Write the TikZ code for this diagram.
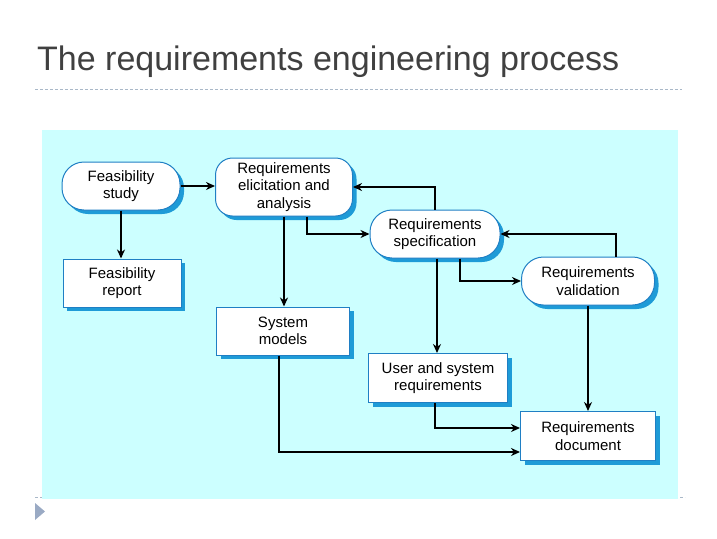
\documentclass[tikz,border=0pt]{standalone}
\usepackage{fontspec}
\setmainfont{Liberation Sans}
\usetikzlibrary{shadows,arrows.meta}
\definecolor{panel}{HTML}{CCFFFF}
\definecolor{edge}{HTML}{1F7FC4}
\definecolor{shade}{HTML}{1E9BD7}
\definecolor{titlegray}{HTML}{404040}
\definecolor{rulegray}{HTML}{A9B8C8}
\definecolor{bulletgray}{HTML}{9AAAC4}

\begin{document}
\begin{tikzpicture}[x=1pt, y=-1pt]
    \tikzstyle{every node} = [align=center, font=\fontsize{15}{17.5}\selectfont]
    \tikzstyle{box} = [draw=edge, line width=1pt, fill=white, inner sep=0pt,
        drop shadow={shadow xshift=4pt, shadow yshift=-4pt, fill=shade, opacity=1}]
    \tikzstyle{activity} = [box, rounded corners=22pt]
    \tikzstyle{deliverable} = [box]
    \tikzstyle{flow} = [line width=1.8pt, -{Stealth[length=9pt,width=8pt]}]
    \useasboundingbox (0,0) rectangle (717,538);

    % slide frame
    \node [anchor=base west, inner sep=0pt, text=titlegray,
        font=\fontsize{34}{37}\selectfont] (title) at (37,70) {The requirements engineering process};
    \draw [rulegray, dash pattern=on 3pt off 2pt] (35,89) -- (682,89);
    \draw [rulegray, dash pattern=on 3pt off 2pt] (35,497.5) -- (685,497.5);
    \fill [panel] (42,130) rectangle (678,499);
    \fill [bulletgray] (35,503) -- (45,511.5) -- (35,520) -- cycle;

    % activities
    \node [activity, minimum width=118pt, minimum height=48pt] (study) at (121,186) {Feasibility\\study};
    \node [activity, rounded corners=17pt, minimum width=137pt, minimum height=58pt] (elicit) at (284,187) {Requirements\\elicitation and\\analysis};
    \node [activity, minimum width=130pt, minimum height=48pt] (spec) at (435,234) {Requirements\\specification};
    \node [activity, minimum width=133pt, minimum height=48pt] (valid) at (588,281) {Requirements\\validation};

    % documents
    \node [deliverable, minimum width=118pt, minimum height=48pt] (report) at (122,283) {Feasibility\\report};
    \node [deliverable, minimum width=133pt, minimum height=48pt] (models) at (283,331) {System\\models};
    \node [deliverable, minimum width=139pt, minimum height=49pt] (userreq) at (438,378) {User and system\\requirements};
    \node [deliverable, minimum width=135pt, minimum height=49pt] (reqdoc) at (588,436) {Requirements\\document};

    % flows
    \draw [flow] (study.east) -- (study.east -| elicit.west);
    \draw [flow] (study.south) -- (study.south |- report.north);
    \draw [flow] (elicit.south) -- (elicit.south |- models.north);
    \draw [flow] ([xshift=23pt]elicit.south) |- (spec.west);
    \draw [flow] (spec.north) |- (elicit.east);
    \draw [flow] ([xshift=25pt]spec.south) |- (valid.west);
    \draw [flow] ([xshift=28pt]valid.north) |- (spec.east);
    \draw [flow] ([xshift=2pt]spec.south) -- ([xshift=2pt]spec.south |- userreq.north);
    \draw [flow] (valid.south) -- (valid.south |- reqdoc.north);
    \draw [flow] ([xshift=-3pt]userreq.south) |- ([yshift=8pt]reqdoc.west);
    \draw [flow] ([xshift=-4pt]models.south) |- ([yshift=-16pt]reqdoc.west);
\end{tikzpicture}
\end{document}
